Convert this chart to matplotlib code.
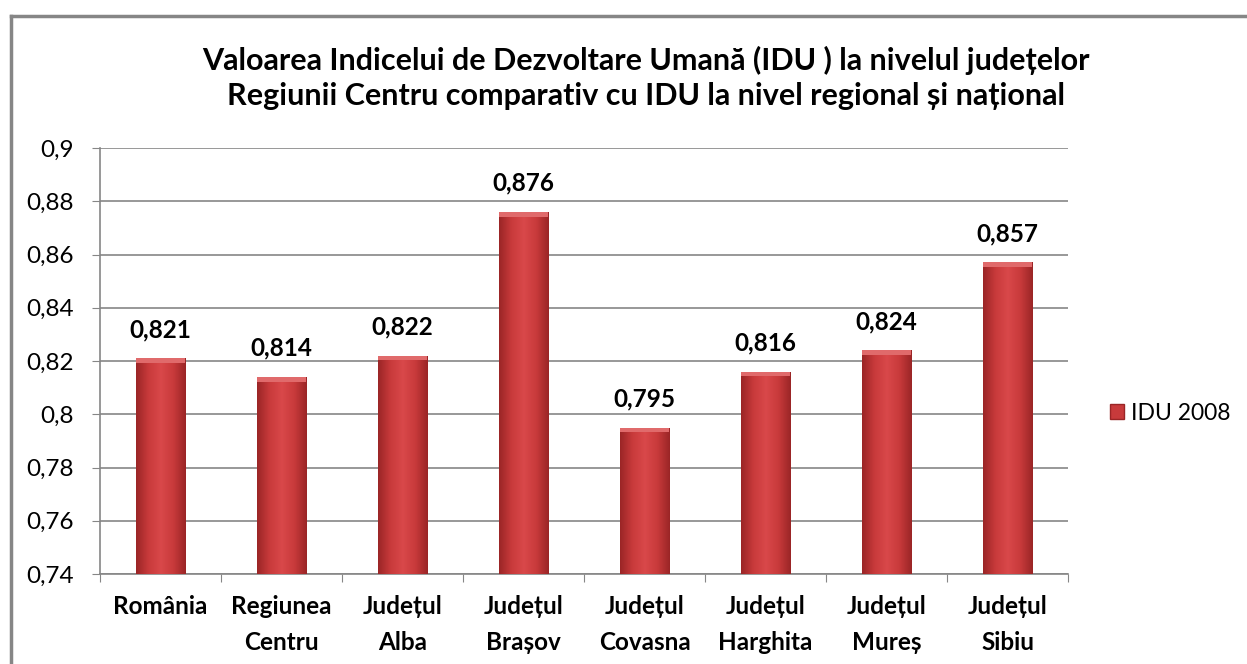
import matplotlib.pyplot as plt
import numpy as np
from matplotlib.colors import LinearSegmentedColormap
from matplotlib.patches import Rectangle
from matplotlib.ticker import FuncFormatter

plt.rcParams['font.family'] = ['Lato', 'DejaVu Sans']

categories = ["România", "Regiunea\nCentru", "Județul\nAlba", "Județul\nBrașov",
              "Județul\nCovasna", "Județul\nHarghita", "Județul\nMureș", "Județul\nSibiu"]
idu_2008 = [0.821, 0.814, 0.822, 0.876, 0.795, 0.816, 0.824, 0.857]
series_name = "IDU 2008"
title = ("Valoarea Indicelui de Dezvoltare Umană (IDU ) la nivelul județelor\n"
         "Regiunii Centru comparativ cu IDU la nivel regional și național")

fig = plt.figure(figsize=(12.47, 6.64), dpi=100)
ax = fig.add_axes([0.0802, 0.1355, 0.7763, 0.6416])

ymin, ymax = 0.74, 0.9
ax.set_ylim(ymin, ymax)
ax.set_xlim(0, len(categories))
ax.set_yticks(np.arange(0.74, 0.9001, 0.02))
ax.yaxis.set_major_formatter(FuncFormatter(lambda v, p: ("%g" % round(v, 3)).replace('.', ',')))
ax.set_xticks(np.arange(len(categories) + 1), minor=False)
ax.set_xticklabels([])
ax.set_xticks(np.arange(len(categories)) + 0.5, minor=True)
ax.set_xticklabels(categories, minor=True, fontweight='bold', fontsize=17.5, linespacing=1.7)
ax.tick_params(axis='x', which='minor', length=0, pad=15)
ax.tick_params(axis='x', which='major', length=6, color='#868686', direction='out')
ax.tick_params(axis='y', length=6, color='#868686', labelsize=17.5, pad=13)

ax.yaxis.grid(True, color='#868686', linewidth=1.2)
ax.set_axisbelow(True)
for s in ['top', 'right']:
    ax.spines[s].set_visible(False)
for s in ['left', 'bottom']:
    ax.spines[s].set_color('#868686')
    ax.spines[s].set_linewidth(1.2)

cmap = LinearSegmentedColormap.from_list('bar', ['#9a2526', '#c83a3b', '#d9484a', '#c83a3b', '#9a2526'])
grad = np.linspace(0, 1, 256).reshape(1, -1)
width = 0.41
for i, v in enumerate(idu_2008):
    x0 = i + 0.5 - width / 2
    bar = ax.bar(i + 0.5, v - ymin, width=width, bottom=ymin, color='#c83a3b', zorder=2)[0]
    im = ax.imshow(grad, cmap=cmap, extent=(x0, x0 + width, ymin, v), aspect='auto', zorder=3)
    im.set_clip_path(bar)
    # top bevel highlight
    ax.add_patch(Rectangle((x0, v - 0.0018), width, 0.0018, color='#e06a6b', zorder=4, lw=0))
    ax.text(i + 0.5, v + 0.0065, ("%.3f" % v).replace('.', ','), ha='center', va='bottom',
            fontsize=17.5, fontweight='bold')

ax.set_xlim(0, len(categories))
ax.set_ylim(ymin, ymax)

fig.text(0.518, 0.882, title, ha='center', va='center', fontsize=22, fontweight='bold',
         linespacing=1.3)

handle = Rectangle((0, 0), 1, 1, facecolor='#c83a3b', edgecolor='#9a2526')
fig.legend([handle], [series_name], loc='center left', bbox_to_anchor=(0.8866, 0.378),
           frameon=False, fontsize=16.5, handlelength=0.6, handleheight=0.6, handletextpad=0.3,
           borderpad=0.2, borderaxespad=0)

# outer chart frame
fig.add_artist(plt.Line2D([0.0088, 0.0088], [0, 1 - 16 / 664], color='#868686', lw=2.5,
                          transform=fig.transFigure))
fig.add_artist(plt.Line2D([0.0088, 1], [1 - 16 / 664, 1 - 16 / 664], color='#868686', lw=2.5,
                          transform=fig.transFigure))

fig.savefig('out.png', dpi=100)
